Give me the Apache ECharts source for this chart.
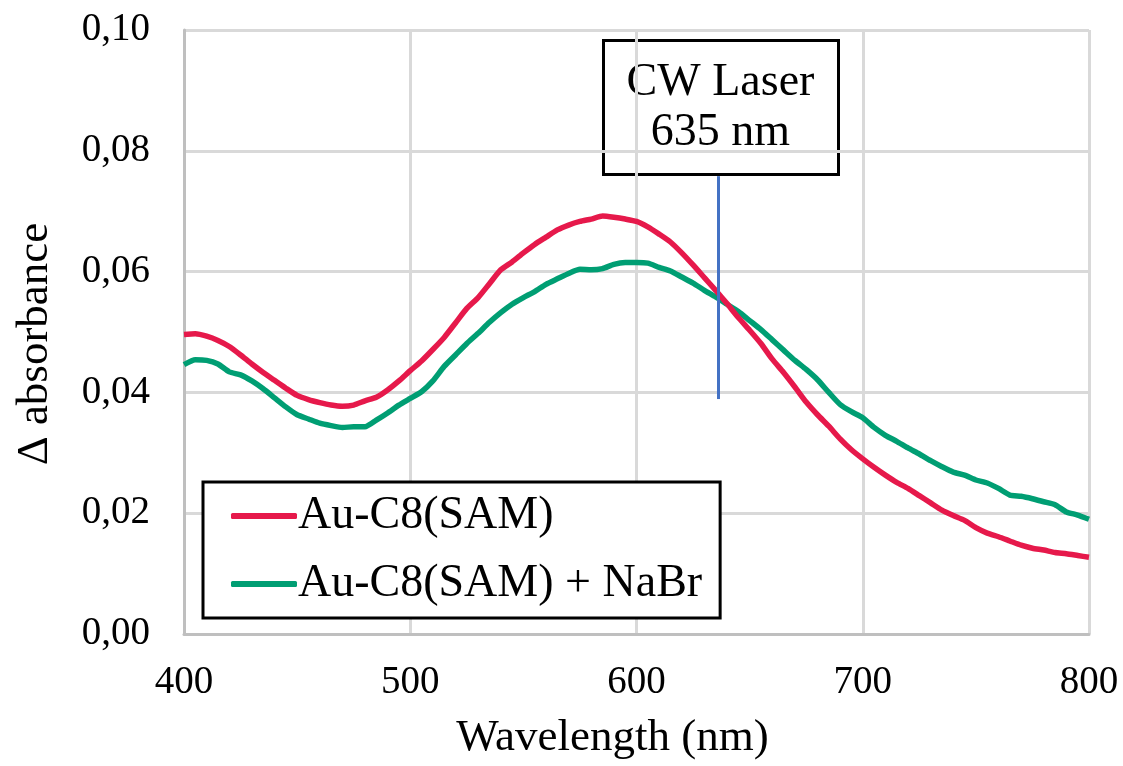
<!DOCTYPE html>
<html>
<head>
<meta charset="utf-8">
<script src="https://cdn.jsdelivr.net/npm/echarts@6/dist/echarts.min.js"></script>
<style>
  html, body { margin: 0; padding: 0; background: #fff; }
  #chart { width: 1123px; height: 766px; }
</style>
</head>
<body>
<div id="chart"></div>
<script>
// wavelength grid (nm), 5 nm steps
var wavelengths = [];
for (var w = 400; w <= 800; w += 5) wavelengths.push(w);

// Au-C8(SAM)
var samValues = [
  0.0496, 0.0497, 0.0493, 0.0486, 0.0476, 0.0462, 0.0447, 0.0433, 0.0420, 0.0407,
  0.0395, 0.0388, 0.0383, 0.0379, 0.0377, 0.0379, 0.0386, 0.0392, 0.0404, 0.0419,
  0.0436, 0.0452, 0.0471, 0.0491, 0.0515, 0.0539, 0.0557, 0.0580, 0.0603, 0.0616,
  0.0631, 0.0645, 0.0657, 0.0669, 0.0677, 0.0683, 0.0687, 0.0692, 0.0690, 0.0687,
  0.0683, 0.0674, 0.0662, 0.0649, 0.0631, 0.0611, 0.0590, 0.0569, 0.0547, 0.0524,
  0.0503, 0.0481, 0.0455, 0.0433, 0.0409, 0.0384, 0.0363, 0.0344, 0.0323, 0.0305,
  0.0290, 0.0276, 0.0263, 0.0251, 0.0241, 0.0229, 0.0217, 0.0205, 0.0196, 0.0188,
  0.0176, 0.0167, 0.0161, 0.0154, 0.0147, 0.0142, 0.0139, 0.0135, 0.0133, 0.0130,
  0.0127
];

// Au-C8(SAM) + NaBr
var nabrValues = [
  0.0446, 0.0454, 0.0453, 0.0447, 0.0434, 0.0429, 0.0419, 0.0406, 0.0391, 0.0376,
  0.0363, 0.0356, 0.0349, 0.0345, 0.0342, 0.0343, 0.0343, 0.0354, 0.0366, 0.0379,
  0.0390, 0.0401, 0.0419, 0.0443, 0.0462, 0.0481, 0.0498, 0.0516, 0.0532, 0.0546,
  0.0557, 0.0567, 0.0579, 0.0588, 0.0597, 0.0604, 0.0603, 0.0605, 0.0612, 0.0615,
  0.0615, 0.0614, 0.0607, 0.0601, 0.0591, 0.0581, 0.0569, 0.0558, 0.0546, 0.0534,
  0.0519, 0.0504, 0.0487, 0.0470, 0.0453, 0.0438, 0.0421, 0.0400, 0.0380, 0.0368,
  0.0358, 0.0342, 0.0329, 0.0319, 0.0308, 0.0298, 0.0287, 0.0277, 0.0268, 0.0263,
  0.0255, 0.0250, 0.0241, 0.0230, 0.0228, 0.0224, 0.0219, 0.0214, 0.0202, 0.0197,
  0.0190
];

var seriesNames = ['Au-C8(SAM)', 'Au-C8(SAM) + NaBr'];
var xTicks = [400, 500, 600, 700, 800];
var yTicks = [0, 0.02, 0.04, 0.06, 0.08, 0.10];

// laser marker line: wavelength and vertical extent
var laserX = [636, 636];
var laserY = [0.0758, 0.0389];
var laserText = ['CW Laser', '635 nm'];

var serif = '"Liberation Serif", "Times New Roman", serif';

function pairs(xs, ys) {
  return xs.map(function (x, i) { return [x, ys[i]]; });
}

var chart = echarts.init(document.getElementById('chart'));

chart.setOption({
  animation: false,
  backgroundColor: '#fff',
  grid: { left: 184, right: 34, top: 30, bottom: 129, containLabel: false },
  xAxis: {
    type: 'value',
    min: xTicks[0],
    max: xTicks[xTicks.length - 1],
    interval: 100,
    name: 'Wavelength (nm)',
    nameLocation: 'middle',
    nameGap: 82,
    nameTextStyle: {
      fontFamily: serif, fontSize: 45, color: '#000',
      padding: [0, 48, 0, 0]
    },
    axisLine: { show: true, lineStyle: { color: '#BFBFBF', width: 3 } },
    axisTick: { show: false },
    axisLabel: { fontFamily: serif, fontSize: 39, color: '#000', margin: 29 },
    splitLine: { show: true, lineStyle: { color: '#D9D9D9', width: 3 } }
  },
  yAxis: {
    type: 'value',
    min: yTicks[0],
    max: yTicks[yTicks.length - 1],
    interval: 0.02,
    name: 'Δ absorbance',
    nameLocation: 'middle',
    nameGap: 126,
    nameTextStyle: {
      fontFamily: serif, fontSize: 45, color: '#000',
      padding: [0, 24, 0, 0]
    },
    axisLine: { show: true, lineStyle: { color: '#BFBFBF', width: 3 } },
    axisTick: { show: false },
    axisLabel: {
      fontFamily: serif, fontSize: 39, color: '#000', margin: 34,
      formatter: function (v) { return v.toFixed(2).replace('.', ','); }
    },
    splitLine: { show: true, lineStyle: { color: '#D9D9D9', width: 3 } }
  },
  legend: {
    data: seriesNames,
    orient: 'vertical',
    left: 203,
    top: 482,
    padding: [11, 18, 11, 28],
    itemGap: 22,
    itemWidth: 66,
    itemHeight: 6,
    icon: 'roundRect',
    borderColor: '#000',
    borderWidth: 3,
    backgroundColor: '#fff',
    textStyle: { fontFamily: serif, fontSize: 46, color: '#000', padding: [0, 0, 0, -4] }
  },
  series: [
    {
      name: seriesNames[0],
      type: 'line',
      data: pairs(wavelengths, samValues),
      showSymbol: false,
      smooth: 0.2,
      color: '#E6194B',
      lineStyle: { width: 5.5, color: '#E6194B' },
      z: 3
    },
    {
      name: seriesNames[1],
      type: 'line',
      data: pairs(wavelengths, nabrValues),
      showSymbol: false,
      smooth: 0.2,
      color: '#009E73',
      lineStyle: { width: 5.5, color: '#009E73' },
      z: 2,
      markLine: {
        silent: true,
        symbol: ['none', 'none'],
        label: { show: false },
        lineStyle: { color: '#4472C4', width: 3, type: 'solid' },
        data: [[
          { coord: [laserX[0], laserY[0]] },
          { coord: [laserX[1], laserY[1]] }
        ]]
      }
    }
  ],
  graphic: [{
    type: 'group',
    left: 602,
    top: 39,
    children: [
      {
        type: 'rect',
        shape: { x: 0, y: 0, width: 235, height: 134 },
        style: { fill: '#fff', stroke: '#000', lineWidth: 3 }
      },
      {
        type: 'text',
        x: 117,
        y: 67,
        style: {
          text: laserText.join('\n'),
          fontFamily: serif,
          fontSize: 46,
          lineHeight: 50,
          fill: '#000',
          align: 'center',
          verticalAlign: 'middle'
        }
      }
    ]
  }]
});
</script>
</body>
</html>
